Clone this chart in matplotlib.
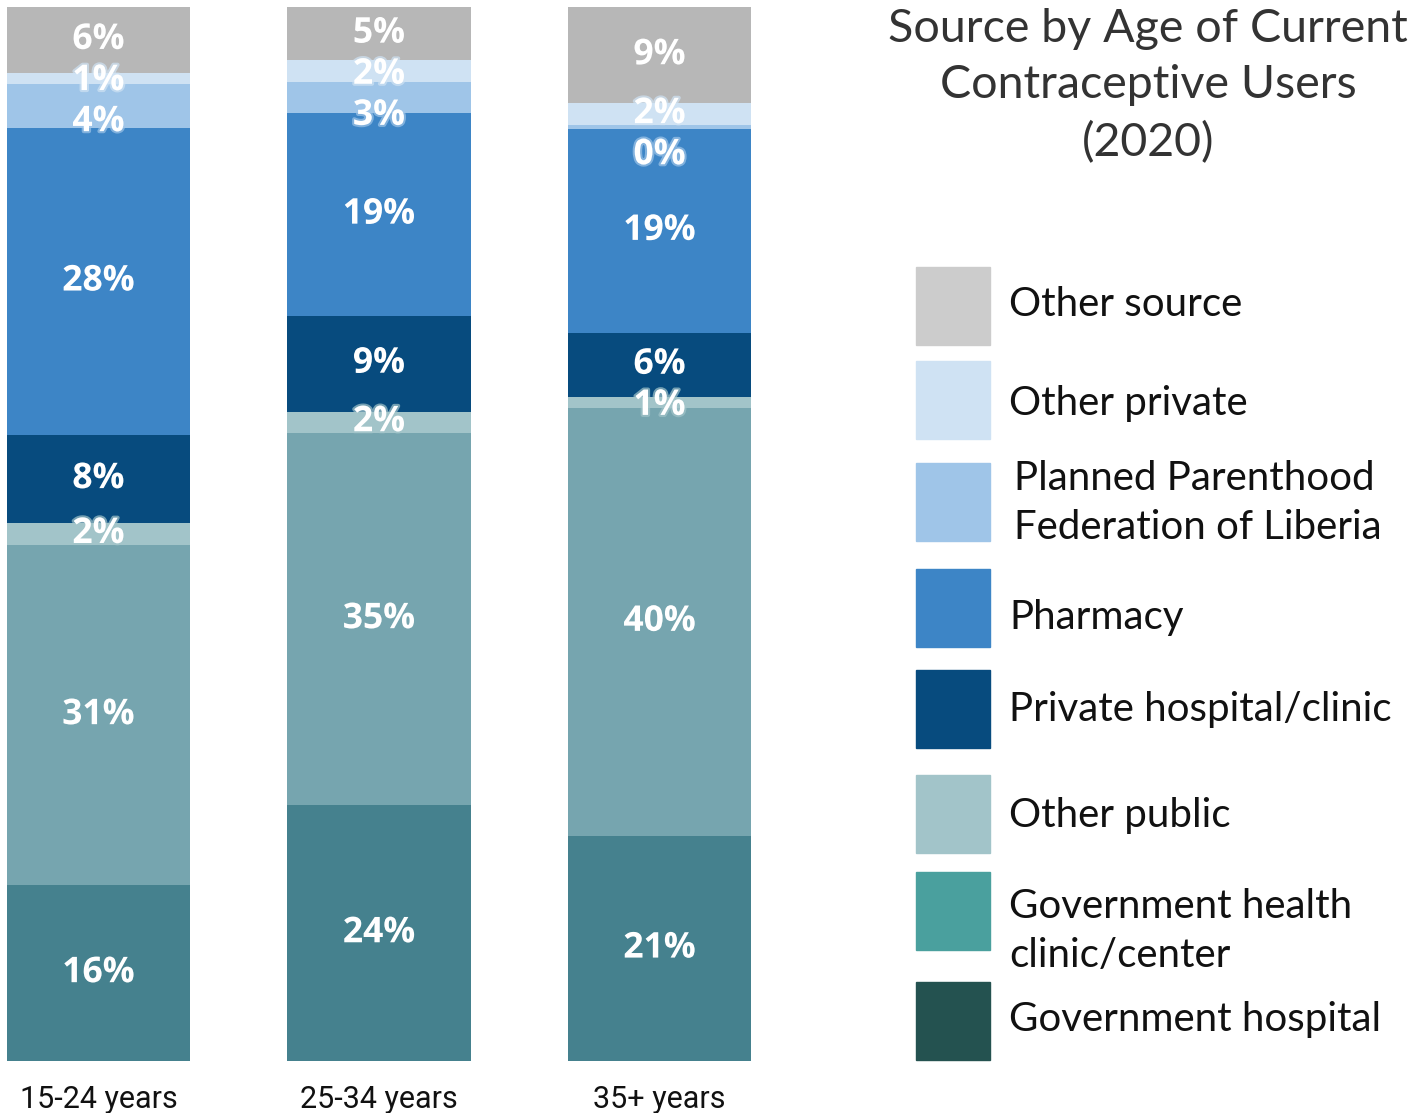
import numpy as np
import matplotlib.pyplot as plt
from matplotlib.patches import Rectangle
import matplotlib.patheffects as pe

# data (bottom -> top), values as printed on the bars
groups = ["15-24 years", "25-34 years", "35+ years"]
sources = ["Government hospital", "Government health\nclinic/center", "Other public",
           "Private hospital/clinic", "Pharmacy",
           "Planned Parenthood\nFederation of Liberia", "Other private", "Other source"]
gov_hospital = [16, 24, 21]
gov_clinic = [31, 35, 40]
other_public = [2, 2, 1]
private_hosp = [8, 9, 6]
pharmacy = [28, 19, 19]
ppfl = [4, 3, 0.4]
other_private = [1, 2, 2]
other_source = [6, 5, 9]

bar_colors = ["#45818e", "#76a5af", "#a2c4c9", "#074b7e", "#3d85c6", "#9fc5e8", "#cfe2f3", "#b7b7b7"]
legend_colors = ["#245250", "#4aa09e", "#a2c4c9", "#074b7e", "#3d85c6", "#9fc5e8", "#cfe2f3", "#cccccc"]

W, H = 1412, 1113
fig = plt.figure(figsize=(W / 100, H / 100), dpi=100)

def fx(px):
    return px / W

def fy(py):
    return 1 - py / H

ax = fig.add_axes([fx(7), fy(1061), fx(744), 1054 / H])

vals = np.array([gov_hospital, gov_clinic, other_public, private_hosp,
                 pharmacy, ppfl, other_private, other_source], dtype=float)
shares = vals / vals.sum(axis=0) * 100
x = np.arange(len(groups))
bw = 183 / 280.5
bottom = np.zeros(len(groups))
centers = []
for i in range(len(sources)):
    ax.bar(x, shares[i], bw, bottom=bottom, color=bar_colors[i], linewidth=0)
    centers.append(bottom + shares[i] / 2)
    bottom = bottom + shares[i]
centers = np.array(centers)

# labels, pushed down a bit where they would overlap
min_gap = 3.9
for j in range(len(groups)):
    prev = None
    for i in range(len(sources) - 1, -1, -1):
        yc = centers[i, j]
        if prev is not None and prev - yc < min_gap:
            yc = prev - min_gap
        prev = yc
        ax.text(x[j], yc, f"{vals[i, j]:.0f}%", ha="center", va="center",
                color="white", fontsize=25.5, fontweight="bold", family="Open Sans",
                path_effects=[pe.withStroke(linewidth=3, foreground=bar_colors[i], alpha=0.7)])

ax.set_xlim(-0.326, 2.326)
ax.set_ylim(0, 100)
ax.set_xticks(x)
ax.set_xticklabels(groups, fontsize=22, family="Roboto", color="#111111")
ax.tick_params(axis="x", length=0, pad=17)
ax.set_yticks([])
for s in ax.spines.values():
    s.set_visible(False)

fig.text(fx(1148), fy(86), "Source by Age of Current\nContraceptive Users\n(2020)",
         ha="center", va="center", fontsize=33.5, family="Lato", color="#333333",
         linespacing=1.42)

# legend, top to bottom
patch_tops = [267, 361, 463, 569, 670, 775, 872, 982]
text_y = [304, 404, 503, 618, 709, 816, 931, 1020]
text_x = [1009, 1009, 1014, 1009, 1009, 1009, 1009, 1009]
for k, i in enumerate(range(len(sources) - 1, -1, -1)):
    fig.patches.append(Rectangle((fx(916), fy(patch_tops[k] + 78)), fx(74), 78 / H,
                                 transform=fig.transFigure, color=legend_colors[i]))
    fig.text(fx(text_x[k]), fy(text_y[k]), sources[i], ha="left", va="center",
             fontsize=29, family="Lato", color="#111111", linespacing=1.38)

fig.savefig("out.png", dpi=100)
